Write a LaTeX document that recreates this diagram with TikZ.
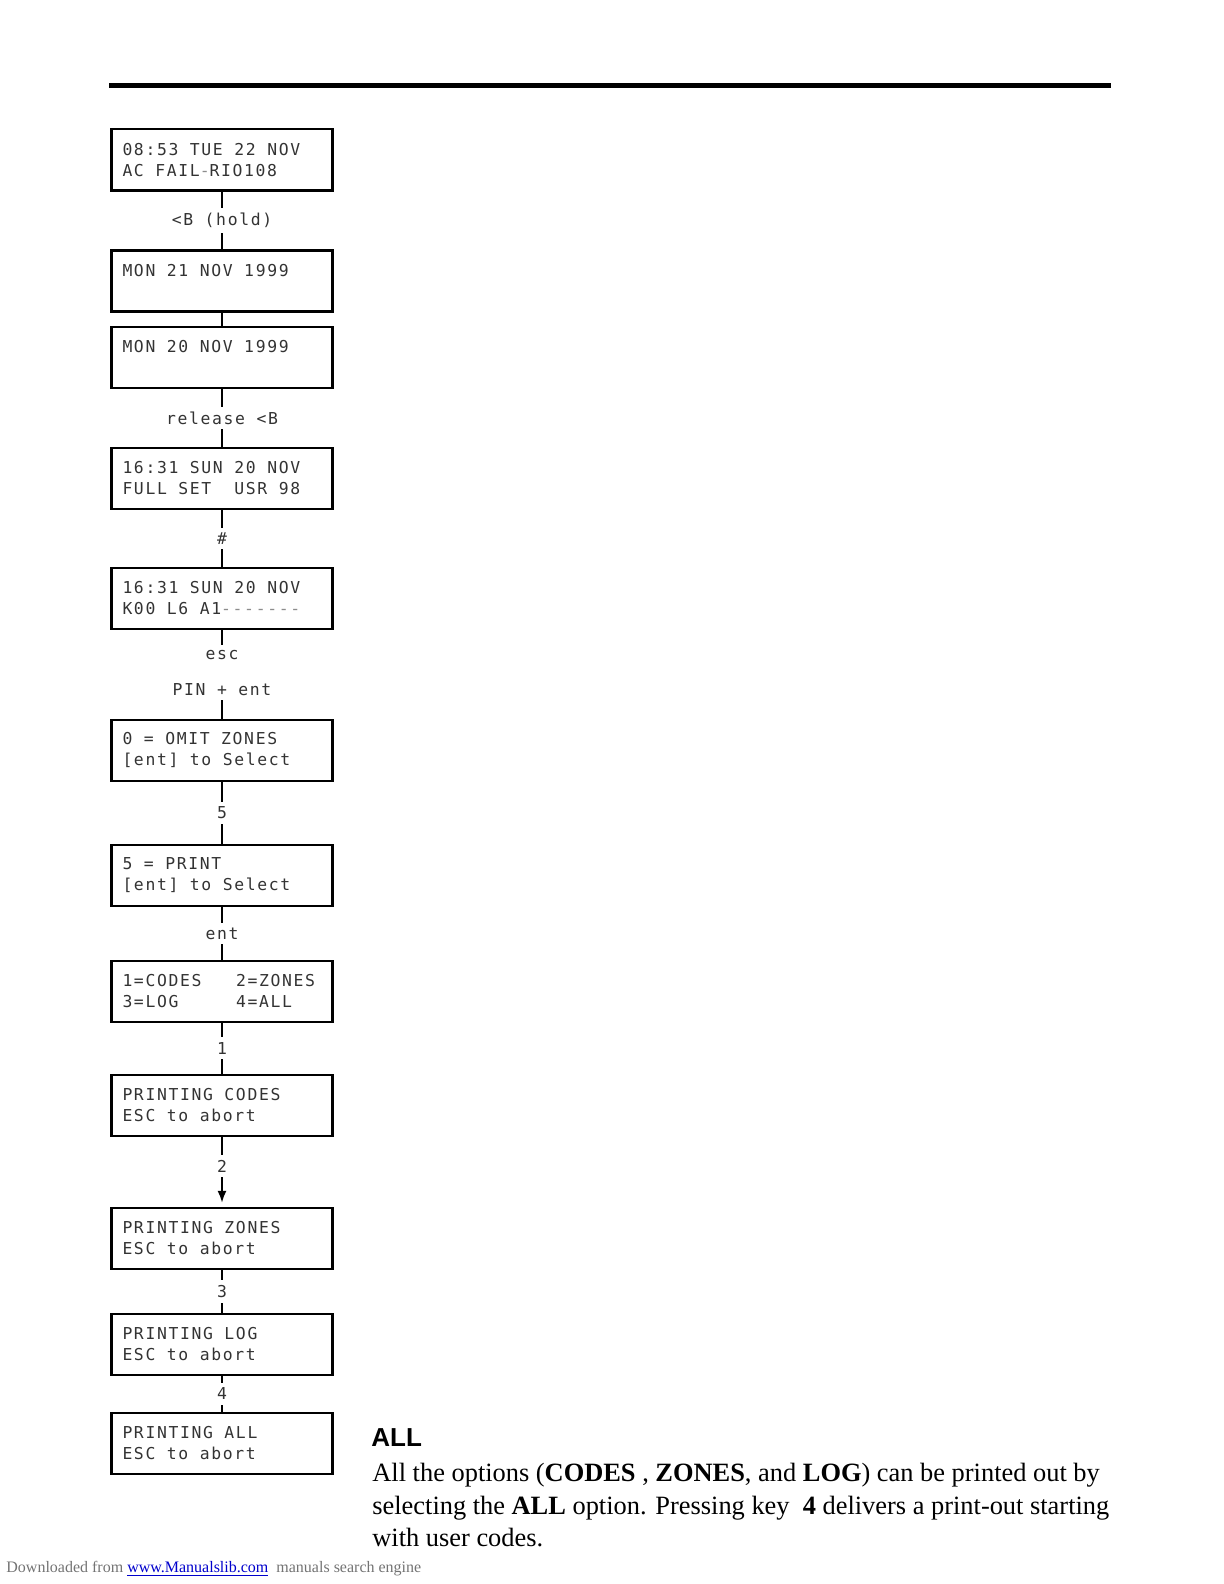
\documentclass[tikz,border=0pt]{standalone}
\usepackage{fontspec}
\setmainfont{Liberation Serif}
\newfontfamily\lcdfont{DejaVu Sans Mono}[LetterSpace=10]
\newfontfamily\headfont{Liberation Sans}
\newcommand\lcd{\lcdfont\fontsize{8.2}{10.5}\selectfont}
\newcommand\lcdgap{\hspace*{5.76pt}}
\usetikzlibrary{arrows.meta,positioning}
\definecolor{linkblue}{RGB}{0,0,204}
\tikzset{
  lcdbox/.style={rectangle, draw=black, line width=1.3pt, outer sep=0pt,
                 minimum width=110.5pt, minimum height=30.5pt,
                 text width=99.5pt, inner xsep=5.5pt, align=left,
                 text=black!80, font=\lcd},
  keylbl/.style={fill=white, inner sep=2.5pt, text=black!80, font=\lcd},
  conn/.style={line width=1.1pt, draw=black},
  arr/.style={conn, -{Latex[length=6pt,width=4.5pt]}, shorten >=2.5pt},
}
\begin{document}
\begin{tikzpicture}[x=0.5pt, y=-0.5pt]
  \useasboundingbox (0,0) rectangle (1224,1584);
  \draw[line width=2.5pt] (109,86) -- (1111,86);
  % display sequence
  \node[lcdbox] (now) at (222,159.7)
    {08:53\lcdgap TUE\lcdgap 22\lcdgap NOV\\AC\lcdgap FAIL{\color{black!45}-}RIO108};
  \node[lcdbox, below=30pt of now] (dayone)
    {MON\lcdgap 21\lcdgap NOV\lcdgap 1999\\\mbox{}};
  \node[lcdbox, below=7.85pt of dayone] (daytwo)
    {MON\lcdgap 20\lcdgap NOV\lcdgap 1999\\\mbox{}};
  \node[lcdbox, below=30pt of daytwo] (fullset)
    {16:31\lcdgap SUN\lcdgap 20\lcdgap NOV\\FULL\lcdgap SET\lcdgap\lcdgap USR\lcdgap 98};
  \node[lcdbox, below=29.5pt of fullset] (keypad)
    {16:31\lcdgap SUN\lcdgap 20\lcdgap NOV\\K00\lcdgap L6\lcdgap A1{\color{black!45}-------}};
  \node[lcdbox, below=45.5pt of keypad] (omit)
    {0\lcdgap =\lcdgap OMIT\lcdgap ZONES\\{}[ent]\lcdgap to\lcdgap Select};
  \node[lcdbox, below=32pt of omit] (print)
    {5\lcdgap =\lcdgap PRINT\\{}[ent]\lcdgap to\lcdgap Select};
  \node[lcdbox, below=27.5pt of print] (menu)
    {1=CODES\lcdgap\lcdgap\lcdgap 2=ZONES\\3=LOG\lcdgap\lcdgap\lcdgap\lcdgap\lcdgap 4=ALL};
  \node[lcdbox, below=26.5pt of menu] (pcodes)
    {PRINTING\lcdgap CODES\\ESC\lcdgap to\lcdgap abort};
  \node[lcdbox, below=36pt of pcodes] (pzones)
    {PRINTING\lcdgap ZONES\\ESC\lcdgap to\lcdgap abort};
  \node[lcdbox, below=22.5pt of pzones] (plog)
    {PRINTING\lcdgap LOG\\ESC\lcdgap to\lcdgap abort};
  \node[lcdbox, below=19pt of plog] (pall)
    {PRINTING\lcdgap ALL\\ESC\lcdgap to\lcdgap abort};
  % key presses
  \draw[conn] (now) to node[keylbl]{<B\lcdgap (hold)} (dayone);
  \draw[conn] (dayone) -- (daytwo);
  \draw[conn] (daytwo) to node[keylbl]{release\lcdgap <B} (fullset);
  \draw[conn] (fullset) to node[keylbl]{\#} (keypad);
  \draw[conn] (keypad) to node[keylbl, align=center, pos=0.48]
    {esc\\[7.5pt]PIN\lcdgap +\lcdgap ent} (omit);
  \draw[conn] (omit) to node[keylbl]{5} (print);
  \draw[conn] (print) to node[keylbl]{ent} (menu);
  \draw[conn] (menu) to node[keylbl]{1} (pcodes);
  \draw[arr] (pcodes) to node[keylbl, pos=0.42]{2} (pzones);
  \draw[conn] (pzones) to node[keylbl]{3} (plog);
  \draw[conn] (plog) to node[keylbl]{4} (pall);
  % text
  \node[anchor=base west, inner sep=0, font=\headfont\bfseries\fontsize{13}{15}\selectfont]
    (allhead) at (371,1446) {ALL};
  \node[anchor=north west, inner sep=0, align=left, font=\fontsize{13.2}{16.2}\selectfont]
    (alltext) at (372,1463) {All the options (\textbf{CODES} , \textbf{ZONES}, and \textbf{LOG}) can be printed out by\\
    selecting the \textbf{ALL} option. Pressing key~ \textbf{4} delivers a print-out starting\\
    with user codes.};
  \node[anchor=base west, inner sep=0, text=black!55, font=\fontsize{8}{10}\selectfont]
    (footer) at (6,1572) {Downloaded from {\color{linkblue}\underline{www.Manualslib.com}}~ manuals search engine};
\end{tikzpicture}
\end{document}
